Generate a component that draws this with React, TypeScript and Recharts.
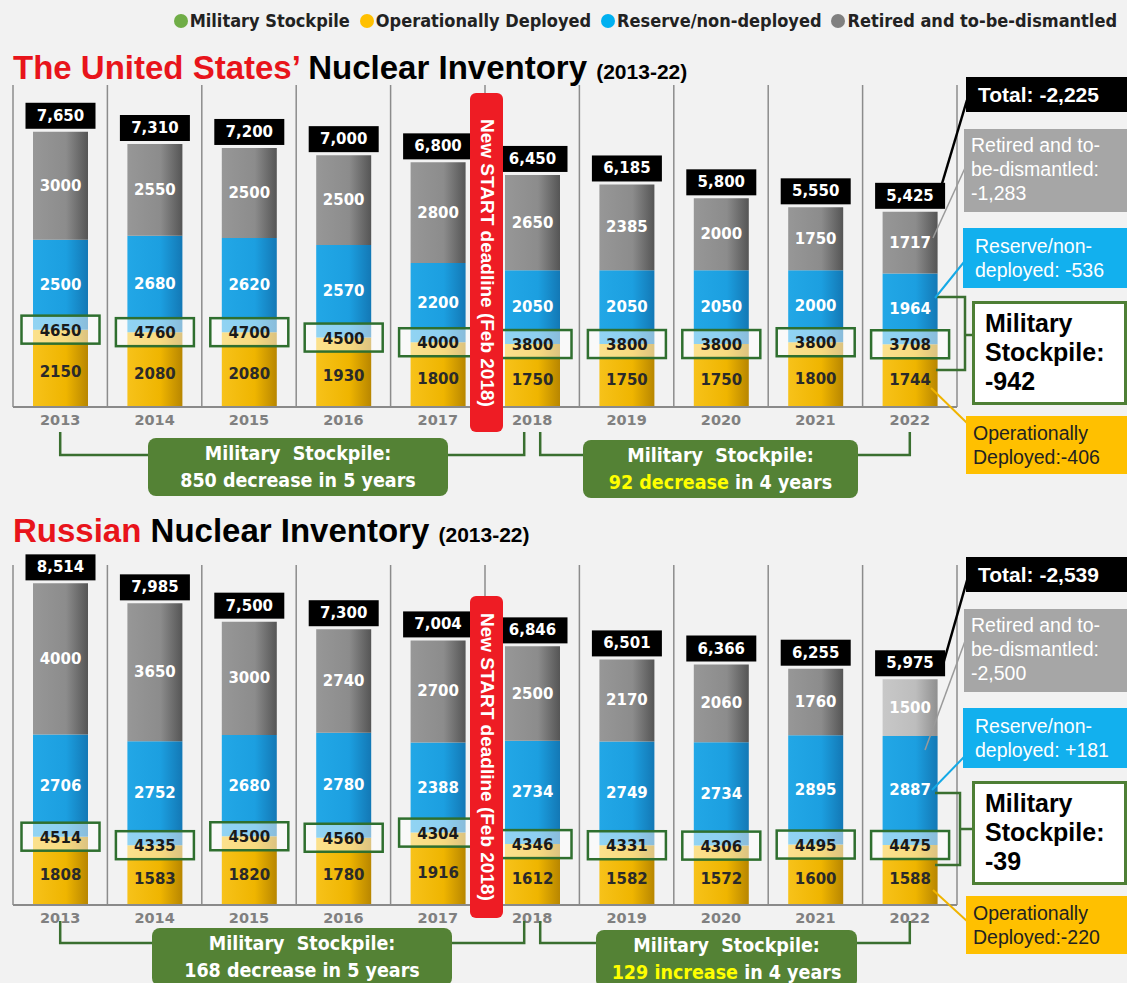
import React from 'react';
import { BarChart, Bar, XAxis, YAxis, CartesianGrid, LabelList, Cell } from 'recharts';

const YEARS = ['2013', '2014', '2015', '2016', '2017', '2018', '2019', '2020', '2021', '2022'];

// United States
const US_DEPLOYED = [2150, 2080, 2080, 1930, 1800, 1750, 1750, 1750, 1800, 1744];
const US_RESERVE = [2500, 2680, 2620, 2570, 2200, 2050, 2050, 2050, 2000, 1964];
const US_RETIRED = [3000, 2550, 2500, 2500, 2800, 2650, 2385, 2000, 1750, 1717];
const US_TOTAL = [7650, 7310, 7200, 7000, 6800, 6450, 6185, 5800, 5550, 5425];
const US_STOCKPILE = [4650, 4760, 4700, 4500, 4000, 3800, 3800, 3800, 3800, 3708];

// Russia
const RU_DEPLOYED = [1808, 1583, 1820, 1780, 1916, 1612, 1582, 1572, 1600, 1588];
const RU_RESERVE = [2706, 2752, 2680, 2780, 2388, 2734, 2749, 2734, 2895, 2887];
const RU_RETIRED = [4000, 3650, 3000, 2740, 2700, 2500, 2170, 2060, 1760, 1500];
const RU_TOTAL = [8514, 7985, 7500, 7300, 7004, 6846, 6501, 6366, 6255, 5975];
const RU_STOCKPILE = [4514, 4335, 4500, 4560, 4304, 4346, 4331, 4306, 4495, 4475];

const LEGEND_LABELS = ['Military Stockpile', 'Operationally Deployed', 'Reserve/non-deployed', 'Retired and to-be-dismantled'];
const LEGEND_COLORS = ['#70ad47', '#ffc000', '#00b0f0', '#808080'];

const W = 1127;
const H = 983;
const PLOT_LEFT = 13;
const PLOT_WIDTH = 944;
const BAND = PLOT_WIDTH / YEARS.length;
const DIVIDERS = Array.from({ length: YEARS.length + 1 }, (_, i) => PLOT_LEFT + i * BAND);
const center = (i: number) => PLOT_LEFT + BAND * (i + 0.5);

const NUM_FONT = '"DejaVu Sans", Verdana, sans-serif';
const ARIAL = '"Liberation Sans", Arial, sans-serif';
const NARROW = '"Liberation Sans Narrow", "Arial Narrow", "DejaVu Sans Condensed", sans-serif';
const GREEN = '#2f6f2f';
const BOX_GREEN = '#548235';

const buildRows = (dep: number[], res: number[], ret: number[], tot: number[], stock: number[]) =>
  YEARS.map((year, i) => ({
    year,
    deployed: dep[i],
    reserve: res[i],
    retired: ret[i],
    total: tot[i],
    stockpile: stock[i],
  }));

const US_ROWS = buildRows(US_DEPLOYED, US_RESERVE, US_RETIRED, US_TOTAL, US_STOCKPILE);
const RU_ROWS = buildRows(RU_DEPLOYED, RU_RESERVE, RU_RETIRED, RU_TOTAL, RU_STOCKPILE);

const box = (props: any) => {
  const vb = props.viewBox ?? props;
  return { x: vb.x ?? props.x, y: vb.y ?? props.y, width: vb.width ?? props.width, height: vb.height ?? props.height };
};

const segLabel = (color: string, shift = 0) => (props: any) => {
  const { x, y, width, height } = box(props);
  return (
    <text
      x={x + width / 2}
      y={y + height / 2 + shift}
      textAnchor="middle"
      dominantBaseline="central"
      fill={color}
      fontFamily={NUM_FONT}
      fontWeight="bold"
      fontSize={15}
    >
      {props.value}
    </text>
  );
};

const stockpileLabel = (props: any) => {
  const { x, y, width, height } = box(props);
  const cx = x + width / 2;
  const cy = y + height;
  return (
    <g>
      <rect x={cx - 39} y={cy - 14} width={78} height={28} fill="rgba(255,255,255,0.5)" stroke={GREEN} strokeWidth={2.5} />
      <text x={cx} y={cy + 1} textAnchor="middle" dominantBaseline="central" fill="#1a1a1a" fontFamily={NUM_FONT} fontWeight="bold" fontSize={15}>
        {props.value}
      </text>
    </g>
  );
};

const totalLabel = (props: any) => {
  const { x, y, width } = box(props);
  const cx = x + width / 2;
  return (
    <g>
      <rect x={cx - 35} y={y - 29} width={70} height={26} fill="#000" />
      <text x={cx} y={y - 16} textAnchor="middle" dominantBaseline="central" fill="#fff" fontFamily={NUM_FONT} fontWeight="bold" fontSize={15}>
        {Number(props.value).toLocaleString('en-US')}
      </text>
    </g>
  );
};

interface ChartProps {
  id: string;
  rows: any[];
  height: number;
  plotHeight: number;
  yMax: number;
  fadeLast?: boolean;
}

function InventoryChart({ id, rows, height, plotHeight, yMax, fadeLast }: ChartProps) {
  return (
    <BarChart
      width={W}
      height={height}
      data={rows}
      margin={{ top: 85, right: W - PLOT_LEFT - PLOT_WIDTH, left: PLOT_LEFT, bottom: height - 85 - plotHeight - 30 }}
      barSize={55}
      barCategoryGap={0}
    >
      <defs>
        <linearGradient id={`${id}-yellow`} x1="0" y1="0" x2="1" y2="0">
          <stop offset="0%" stopColor="#f7c21a" />
          <stop offset="60%" stopColor="#efb500" />
          <stop offset="100%" stopColor="#b88600" />
        </linearGradient>
        <linearGradient id={`${id}-blue`} x1="0" y1="0" x2="1" y2="0">
          <stop offset="0%" stopColor="#22a7e6" />
          <stop offset="60%" stopColor="#1c9fe0" />
          <stop offset="100%" stopColor="#1378b5" />
        </linearGradient>
        <linearGradient id={`${id}-gray`} x1="0" y1="0" x2="1" y2="0">
          <stop offset="0%" stopColor="#979797" />
          <stop offset="60%" stopColor="#8c8c8c" />
          <stop offset="100%" stopColor="#555555" />
        </linearGradient>
        <linearGradient id={`${id}-lightgray`} x1="0" y1="0" x2="1" y2="0">
          <stop offset="0%" stopColor="#c8c8c8" />
          <stop offset="60%" stopColor="#bdbdbd" />
          <stop offset="100%" stopColor="#8f8f8f" />
        </linearGradient>
      </defs>
      <CartesianGrid horizontal={false} vertical verticalPoints={DIVIDERS} stroke="#8c8c8c" strokeWidth={1.5} />
      <XAxis
        dataKey="year"
        height={30}
        interval={0}
        tickLine={false}
        axisLine={{ stroke: '#8a8a8a', strokeWidth: 2 }}
        tick={{ fill: '#808080', fontSize: 14.5, fontWeight: 'bold', fontFamily: NUM_FONT }}
      />
      <YAxis hide domain={[0, yMax]} />
      <Bar dataKey="deployed" stackId="s" fill={`url(#${id}-yellow)`} isAnimationActive={false}>
        <LabelList dataKey="deployed" content={segLabel('#2a2a2a', 4)} />
      </Bar>
      <Bar dataKey="reserve" stackId="s" fill={`url(#${id}-blue)`} isAnimationActive={false}>
        <LabelList dataKey="reserve" content={segLabel('#ffffff')} />
        <LabelList dataKey="stockpile" content={stockpileLabel} />
      </Bar>
      <Bar dataKey="retired" stackId="s" fill={`url(#${id}-gray)`} isAnimationActive={false}>
        {rows.map((_, i) => (
          <Cell key={i} fill={fadeLast && i === rows.length - 1 ? `url(#${id}-lightgray)` : `url(#${id}-gray)`} />
        ))}
        <LabelList dataKey="retired" content={segLabel('#ffffff')} />
        <LabelList dataKey="total" content={totalLabel} />
      </Bar>
    </BarChart>
  );
}

const abs = (left: number, top: number, width: number, height: number): React.CSSProperties => ({
  position: 'absolute',
  left,
  top,
  width,
  height,
  boxSizing: 'border-box',
  overflow: 'hidden',
  whiteSpace: 'nowrap',
});

function Deadline({ top, height }: { top: number; height: number }) {
  return (
    <div
      style={{
        ...abs(470, top, 33, height),
        background: '#ee1c24',
        borderRadius: 6,
        color: '#fff',
        writingMode: 'vertical-rl',
        display: 'flex',
        alignItems: 'center',
        justifyContent: 'center',
        fontFamily: ARIAL,
        fontWeight: 'bold',
        fontSize: 19,
      }}
    >
      New START deadline (Feb 2018)
    </div>
  );
}

function GreenBox({ left, top, width, highlight, rest }: { left: number; top: number; width: number; highlight?: string; rest: string }) {
  return (
    <div
      style={{
        ...abs(left, top, width, 58),
        background: BOX_GREEN,
        borderRadius: 8,
        color: '#fff',
        fontFamily: NARROW,
        fontWeight: 'bold',
        fontSize: 19.5,
        lineHeight: '27px',
        textAlign: 'center',
        paddingTop: 2,
      }}
    >
      <div>Military&nbsp;&nbsp;Stockpile:</div>
      <div>
        {highlight ? <span style={{ color: '#ffff00' }}>{highlight} </span> : null}
        {rest}
      </div>
    </div>
  );
}

function SideBoxes({ top, total, retired, reserve, stockpile, deployed }: { top: number; total: string; retired: string; reserve: string; stockpile: string; deployed: string }) {
  const t = (v: number) => top + v;
  const txt: React.CSSProperties = { fontFamily: ARIAL, fontSize: 19.5, lineHeight: '24px', color: '#fff', padding: '4px 0 0 7px' };
  return (
    <>
      <div style={{ ...abs(966, t(0), 161, 35), background: '#000', color: '#fff', fontFamily: ARIAL, fontWeight: 'bold', fontSize: 21, lineHeight: '35px', paddingLeft: 12 }}>
        Total: {total}
      </div>
      <div style={{ ...abs(964, t(52), 163, 83), background: '#a6a6a6', ...txt }}>
        Retired and to-
        <br />
        be-dismantled:
        <br />
        {retired}
      </div>
      <div style={{ ...abs(963, t(151), 164, 60), background: '#12b0ee', ...txt, paddingLeft: 12, paddingTop: 6 }}>
        Reserve/non-
        <br />
        deployed: {reserve}
      </div>
      <div
        style={{
          ...abs(972, t(224), 155, 104),
          background: '#fff',
          border: `3px solid #4e7f35`,
          fontFamily: ARIAL,
          fontWeight: 'bold',
          fontSize: 25,
          lineHeight: '29px',
          color: '#000',
          padding: '5px 0 0 10px',
        }}
      >
        Military
        <br />
        Stockpile:
        <br />
        {stockpile}
      </div>
      <div style={{ ...abs(966, t(339), 161, 58), background: '#ffc000', ...txt, color: '#222', paddingTop: 5 }}>
        Operationally
        <br />
        Deployed:{deployed}
      </div>
    </>
  );
}

function Title({ top, red, rest }: { top: number; red: string; rest: string }) {
  return (
    <div style={{ position: 'absolute', left: 13, top, fontFamily: ARIAL, fontWeight: 'bold', fontSize: 33, lineHeight: '38px', whiteSpace: 'nowrap', color: '#000' }}>
      <span style={{ color: '#e8141b' }}>{red}</span> {rest} <span style={{ fontSize: 21 }}>(2013-22)</span>
    </div>
  );
}

export default function App() {
  const us2018 = center(5);
  const last = center(9);
  return (
    <div style={{ position: 'absolute', left: 0, top: 0, width: W, height: H, overflow: 'hidden', background: '#f2f2f2' }}>
      {/* legend */}
      <div style={{ position: 'absolute', top: 10, right: 10, display: 'flex', alignItems: 'center', gap: 10, fontFamily: NARROW, fontWeight: 'bold', fontSize: 18, color: '#222', whiteSpace: 'nowrap' }}>
        {LEGEND_LABELS.map((label, i) => (
          <span key={label} style={{ display: 'flex', alignItems: 'center' }}>
            <span style={{ width: 14, height: 14, borderRadius: 7, background: LEGEND_COLORS[i], marginRight: 2 }} />
            {label}
          </span>
        ))}
      </div>

      <Title top={49} red="The United States’" rest="Nuclear Inventory" />
      <Title top={512} red="Russian" rest="Nuclear Inventory" />

      <div style={{ position: 'absolute', left: 0, top: 0 }}>
        <InventoryChart id="us" rows={US_ROWS} height={440} plotHeight={322} yMax={8950} />
      </div>
      <div style={{ position: 'absolute', left: 0, top: 480 }}>
        <InventoryChart id="ru" rows={RU_ROWS} height={460} plotHeight={340} yMax={9000} fadeLast />
      </div>

      {/* connectors and brackets */}
      <svg width={W} height={H} style={{ position: 'absolute', left: 0, top: 0, pointerEvents: 'none' }}>
        <g fill="none" strokeWidth={2.5} stroke="#3a6f30">
          <path d={`M${center(0)} 432 V455 H150 M446 455 H${us2018 - 8} V432`} />
          <path d={`M${us2018 + 8} 432 V455 H585 M856 455 H${last} V432`} />
          <path d={`M${center(0)} 921 V943 H154 M450 943 H${us2018 - 8} V921`} />
          <path d={`M${us2018 + 8} 921 V943 H598 M855 943 H${last} V921`} />
          <path d="M937 297 H965 V370 H936 M965 335 H973" />
          <path d="M935 793 H960 V865 H935 M960 829 H973" />
        </g>
        <line x1={967} y1={100} x2={938} y2={197} stroke="#000" strokeWidth={2.5} />
        <line x1={965} y1={168} x2={933} y2={238} stroke="#9a9a9a" strokeWidth={1.5} />
        <line x1={964} y1={262} x2={935} y2={298} stroke="#14a9e6" strokeWidth={2} />
        <line x1={931} y1={388} x2={967} y2={423} stroke="#f0b400" strokeWidth={2} />

        <line x1={968} y1={577} x2={942} y2={668} stroke="#000" strokeWidth={2.5} />
        <line x1={968} y1={633} x2={925} y2={750} stroke="#9a9a9a" strokeWidth={1.5} />
        <line x1={964} y1={757} x2={932} y2={790} stroke="#14a9e6" strokeWidth={2} />
        <line x1={933} y1={890} x2={968} y2={922} stroke="#f0b400" strokeWidth={2} />
      </svg>

      <Deadline top={93} height={339} />
      <Deadline top={596} height={322} />

      <GreenBox left={148} top={438} width={300} rest="850 decrease in 5 years" />
      <GreenBox left={583} top={440} width={275} highlight="92 decrease" rest="in 4 years" />
      <GreenBox left={152} top={928} width={300} rest="168 decrease in 5 years" />
      <GreenBox left={596} top={930} width={261} highlight="129 increase" rest="in 4 years" />

      <SideBoxes top={77} total="-2,225" retired="-1,283" reserve="-536" stockpile="-942" deployed="-406" />
      <SideBoxes top={557} total="-2,539" retired="-2,500" reserve="+181" stockpile="-39" deployed="-220" />
    </div>
  );
}
